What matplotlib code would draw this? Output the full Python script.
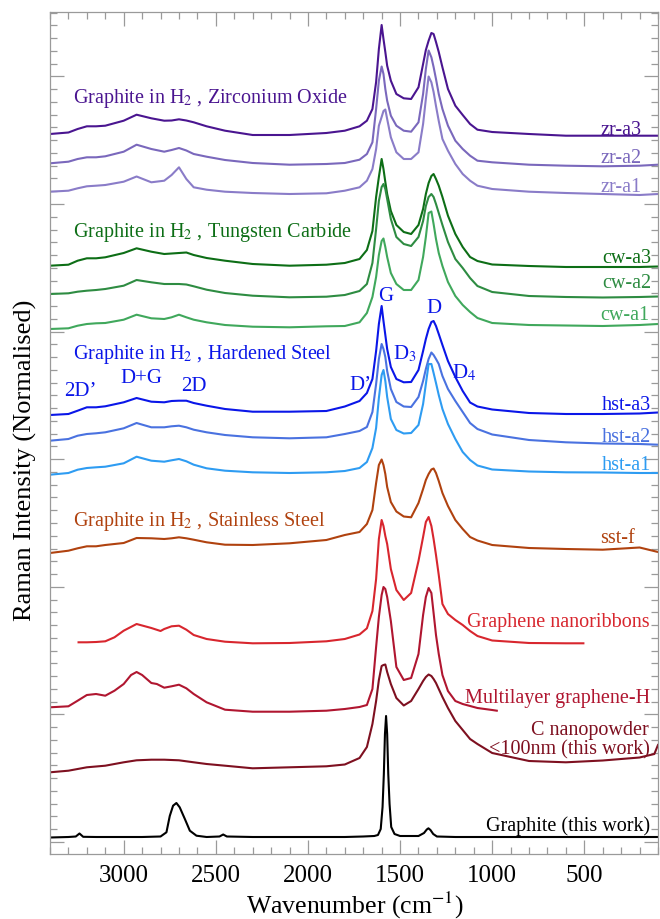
import matplotlib
matplotlib.use("Agg")
import matplotlib.pyplot as plt
from matplotlib.ticker import MultipleLocator

plt.rcParams['font.family'] = ['Liberation Serif', 'DejaVu Serif']
plt.rcParams['mathtext.fontset'] = 'stix'

# ---------------- data (wavenumber in cm^-1, intensity in arbitrary normalised units) ----------
wn = [3400, 3300, 3250, 3200, 3150, 3100, 3000, 2930, 2850, 2780, 2740, 2700, 2660, 2620,
      2550, 2450, 2300, 2100, 1900, 1800, 1720, 1680, 1650, 1630, 1615, 1600, 1590, 1580,
      1570, 1550, 1520, 1480, 1440, 1400, 1375, 1360, 1345, 1330, 1318, 1305, 1290, 1270,
      1240, 1200, 1160, 1120, 1080, 1000, 800, 600, 400, 200, 100]

zr_a3 = [2, 3.5, 7, 9.7, 9.7, 10.3, 15.3, 21.3, 17.7, 15.3, 15.5, 16.7, 15.5, 13.7, 9.7, 5.3, 1, 1, 3,
         5.3, 9.7, 15.3, 27, 54, 87, 111, 97, 84, 70.3, 55.3, 42, 37.7, 37, 48.7, 72, 86, 95.3,
         103, 102, 94, 84, 68.7, 47, 30.3, 21, 12, 6.3, 4, 2, 0.3, 0.3, 0.3, 0.3]
zr_a2 = [2.7, 4.3, 7, 8.7, 8.7, 9.7, 14.3, 21.3, 17, 14.3, 16, 18, 15.5, 12, 9.3, 6, 3, 1.3, 2,
         3, 6.3, 12, 23.7, 57, 85.3, 99.5, 92, 77, 65.3, 50.3, 40.3, 35.3, 34.3, 43.7, 72, 97, 115.5,
         108.7, 99, 87, 72, 57, 40.3, 25.3, 17, 10.3, 5.3, 3.7, 1.3, 0.3, -0.3, 0.3, 1.3]
zr_a1 = [2.3, 3.3, 5.7, 7.7, 8.3, 9, 12.3, 17.5, 11.7, 13.3, 19, 26.7, 15, 6.7, 4.3, 2.3, 1, 0, 0.7,
         3.3, 6.7, 13.3, 25, 45, 68.3, 77, 83, 84.5, 75, 56.7, 41.7, 35, 35, 41.7, 70, 95, 117.5,
         111.7, 102, 88, 73, 55, 43.3, 30, 20, 13.3, 8.3, 5, 2.3, 1, 0, -1, 0]
cw_a3 = [1.3, 2.3, 6.3, 8.7, 8.7, 9.7, 14, 18.7, 15.3, 13, 13.5, 14, 14.5, 12, 9, 6.3, 3, 1.3, 2.3,
         4, 8, 17, 36, 70, 90, 108, 98, 85, 73, 56, 42, 35, 33, 42, 58, 73, 84,
         91, 93, 88, 81.3, 70, 51.3, 33, 20, 10, 6, 2.5, 1, 0, 0, 0, 0.5]
cw_a2 = [3, 3.7, 5.3, 6.3, 7, 8, 11.3, 17, 14.7, 13, 13, 13, 12.5, 10.7, 7.3, 4, 1.3, -0.3, 0.3,
         2, 6, 13, 34, 68, 96, 110, 113, 108, 98, 78, 60, 53, 51, 60, 76, 91, 100,
         103, 100, 93, 84, 72, 55, 38, 29, 19, 11, 5, 1, 0, -0.5, 0, 0.5]
cw_a1 = [0, 0.7, 3.3, 5, 5.7, 6, 9.3, 14.3, 10.7, 10, 11.7, 14.3, 11.7, 9.3, 6.7, 4, 2.3, 1.7, 2.7,
         3, 6.7, 16, 32, 52, 74, 88, 90.5, 82, 72, 56, 45, 39, 39, 49, 72, 92, 116,
         117.5, 105, 90, 76, 63, 47, 33, 24, 17, 11, 6, 4, 3.5, 3, 4, 5]
hst_a3 = [-1, 0, 3.3, 6.7, 6.7, 7.7, 11.7, 16, 12.3, 11.7, 13, 13.3, 13.3, 11, 8.3, 5, 2.3, 2.3, 3,
          7.5, 13, 21, 35, 63, 90, 108, 93, 79, 65, 47, 35, 31.7, 32, 44, 63, 75, 85,
          92, 93, 88, 80, 69, 53, 37, 23, 11.5, 7.5, 4.5, 1, 0, 0, 0.5, 1.5]
hst_a2 = [3.3, 5, 8.3, 10, 10.7, 11.7, 15.7, 21, 16.7, 16.7, 17.7, 18.3, 16.7, 14.3, 11.7, 9, 6.7, 5.7, 6.7,
          10, 13, 17, 32, 60, 85, 100, 95, 87, 73, 55, 42, 37.5, 37, 47, 63, 75, 85,
          91.5, 89, 85, 80, 68, 55, 43, 32, 21, 15, 9.5, 4, 1.7, 0.5, 0, -0.7]
hst_a1 = [-1.7, 0, 3.3, 5, 5.7, 6.3, 9.7, 16.3, 12.3, 11.3, 12.7, 14, 11.7, 8.3, 4.7, 2.3, 0.7, 0, 0.7,
          2, 5, 11, 25, 45, 75, 98, 103, 92, 76, 54, 43, 39.5, 40, 48, 69, 89, 109,
          109, 100, 90, 78, 64, 49, 34, 21, 13, 7.5, 3.5, 1.5, 0.7, 0.5, 0, 0]
sst_f = [-4, -1.7, 0.7, 2.7, 2.7, 4, 6, 11, 10.7, 10, 10.7, 11.7, 10.7, 9.3, 6.7, 4.3, 4, 5.7, 9,
         14, 17, 25, 39, 66, 84, 89.5, 84, 75, 62, 47, 37.5, 32.5, 31.7, 46, 60, 69, 75,
         79.5, 80.5, 76, 68, 56, 43, 29, 20, 12, 8.5, 4, 1, 0, -0.7, 1.5, -3]

gnr_wn = [3245, 3200, 3150, 3100, 3050, 3000, 2930, 2850, 2800, 2780, 2740, 2700, 2660, 2620,
          2550, 2450, 2300, 2100, 1900, 1800, 1720, 1680, 1650, 1630, 1615, 1600, 1590, 1580,
          1570, 1550, 1520, 1480, 1440, 1400, 1375, 1360, 1345, 1330, 1318, 1305, 1290, 1270,
          1240, 1200, 1160, 1120, 1080, 1000, 800, 600, 505]
gnr = [0.7, 0.7, 1, 1.7, 5.7, 12.3, 19, 15, 12, 14, 16.7, 17.3, 13.3, 8,
       4, 1.3, -0.3, 0, 1.7, 4, 8.5, 14.7, 32, 64, 104, 123, 117, 107,
       99, 74, 53, 43, 50, 82, 106, 121, 126, 117, 104, 88, 68, 39,
       29, 23, 18, 12, 7, 2.5, 0, -0.3, -0.3]

mlg_wn = [3400, 3300, 3250, 3200, 3150, 3100, 3050, 3000, 2960, 2930, 2900, 2850, 2820, 2780,
          2740, 2700, 2660, 2620, 2550, 2450, 2300, 2100, 1900, 1800, 1720, 1680, 1650, 1630,
          1615, 1600, 1590, 1580, 1570, 1550, 1520, 1480, 1440, 1400, 1375, 1360, 1345, 1330,
          1318, 1305, 1290, 1270, 1240, 1200, 1160, 1120, 1080, 1000, 975]
mlg = [3.7, 4.7, 10.3, 16, 17, 15.3, 20.3, 27, 36, 39, 36, 28, 27, 23.3,
       24.7, 26.3, 22.7, 17, 8.7, 1.3, -0.7, -0.7, 0.3, 2, 4, 6, 22, 64,
       94, 116, 124, 122, 114, 90, 44, 31, 33, 57, 96, 114, 123, 118,
       98, 76, 57, 36, 20, 10, 7, 5, 3, 1, 0.3]

cnp_wn = [3400, 3300, 3250, 3200, 3150, 3100, 3000, 2930, 2850, 2780, 2700, 2620, 2550, 2450,
          2300, 2100, 1900, 1800, 1720, 1680, 1650, 1630, 1615, 1600, 1590, 1580, 1570, 1550,
          1520, 1480, 1440, 1400, 1375, 1360, 1345, 1330, 1318, 1305, 1290, 1270, 1240, 1200,
          1160, 1120, 1080, 1000, 800, 600, 400, 200, 120, 100]
cnp = [-5.3, -3.7, -2, -0.3, 0.5, 1.3, 4.7, 6.7, 7.3, 7.3, 6.7, 4.7, 3, 1.3,
       -1.3, -0.3, 0.7, 2.5, 9, 20, 43, 66, 87, 101, 102, 102.5, 95, 83,
       69, 61.5, 66, 78, 86, 90, 92.5, 91, 88, 84, 78, 70, 59, 46,
       37, 28, 23, 14, 6, 4.7, 6.5, 9.5, 13, 22]

gra_wn = [3400, 3300, 3260, 3240, 3220, 3150, 3000, 2900, 2800, 2768, 2750, 2732, 2714, 2696,
          2680, 2668, 2641, 2605, 2550, 2480, 2460, 2440, 2300, 2000, 1800, 1700, 1640, 1620,
          1605, 1595, 1588, 1582, 1576, 1570, 1564, 1557, 1548, 1530, 1500, 1400, 1370, 1355,
          1346, 1335, 1320, 1300, 1200, 1000, 800, 600, 400, 200, 100]
gra = [-0.5, 0, 0.5, 3.5, 0.2, 0, 0, 0, 0.5, 4.7, 21, 31.3, 34, 29.7,
       23, 18, 6.3, 1.3, 0, 0.5, 2.5, 0.5, 0, 0, 0, 0.5, 1, 2,
       8, 30, 63, 103, 121, 103, 63, 33, 10, 3, 1, 1, 4, 7.5,
       8.7, 7, 3, 0.5, 0, 0, 0, 0, 0, 0, 0]

stack_offsets = [706, 676, 648, 575, 545, 513, 428, 398, 369, 293, 199, 131, 75, 5]

# ---------------- styling ----------------
c_zr3, c_zr2, c_zr1 = '#4a1590', '#7a68bc', '#8a7cc8'
c_cw3, c_cw2, c_cw1 = '#0d6e16', '#2e8c42', '#40a85c'
c_h3, c_h2, c_h1 = '#0a16e8', '#4a72e0', '#2e9cf2'
c_sst = '#b0420f'
c_gnr, c_mlg, c_cnp, c_gra = '#d8262e', '#b01630', '#7e1020', '#000000'

series = [
    (wn, zr_a3, c_zr3), (wn, zr_a2, c_zr2), (wn, zr_a1, c_zr1),
    (wn, cw_a3, c_cw3), (wn, cw_a2, c_cw2), (wn, cw_a1, c_cw1),
    (wn, hst_a3, c_h3), (wn, hst_a2, c_h2), (wn, hst_a1, c_h1),
    (wn, sst_f, c_sst), (gnr_wn, gnr, c_gnr), (mlg_wn, mlg, c_mlg),
    (cnp_wn, cnp, c_cnp), (gra_wn, gra, c_gra),
]

fig = plt.figure(figsize=(6.6, 9.2), dpi=100)
ax = fig.add_axes([50 / 660, 1 - 855 / 920, 608 / 660, 842 / 920])

for (x, y, col), off in zip(series, stack_offsets):
    ax.plot(x, [v + off for v in y], color=col, lw=1.5, solid_joinstyle='round')

ax.set_xlim(3400, 100)
ax.set_ylim(-12, 830)

ax.xaxis.set_major_locator(MultipleLocator(500))
ax.xaxis.set_minor_locator(MultipleLocator(100))
ax.yaxis.set_major_locator(MultipleLocator(127.6))
ax.yaxis.set_minor_locator(MultipleLocator(12.76))
ax.tick_params(which='both', direction='in', top=True, right=True, color='#9a9a9a', width=0.9)
ax.tick_params(which='major', length=10)
ax.tick_params(which='minor', length=5)
ax.tick_params(axis='x', labelsize=18, pad=7)
ax.tick_params(axis='y', labelleft=False)
for sp in ax.spines.values():
    sp.set_color('#9a9a9a')
    sp.set_linewidth(0.9)

fig.text(25 / 660, 1 - 460 / 920, 'Raman Intensity (Normalised)', rotation=90,
         ha='center', va='center', fontsize=19)
fig.text(355 / 660, 1 - 914 / 920, 'Wavenumber (cm$^{-1}$)', ha='center', va='baseline',
         fontsize=18.5)

fs = 14.5
# group titles
ax.text(3275, 740, 'Graphite in H$_2$ , Zirconium Oxide', color=c_zr3, fontsize=fs, va='baseline')
ax.text(3275, 606, 'Graphite in H$_2$ , Tungsten Carbide', color=c_cw3, fontsize=fs, va='baseline')
ax.text(3275, 484, 'Graphite in H$_2$ , Hardened Steel', color=c_h3, fontsize=fs, va='baseline')
ax.text(3275, 317, 'Graphite in H$_2$ , Stainless Steel', color=c_sst, fontsize=fs, va='baseline')

# peak labels
peak_labels = [('2D\u2019', 3234, 447, 'center'), ('D+G', 2904, 460, 'center'),
               ('2D', 2621, 452, 'center'), ('D\u2019', 1716, 453, 'center'),
               ('G', 1580, 542, 'center'), ('D', 1316, 530, 'center'),
               ('D$_3$', 1536, 484, 'left'), ('D$_4$', 1219, 465, 'left')]
for t, x, y, ha in peak_labels:
    ax.text(x, y, t, color=c_h3, fontsize=fs + 0.5, ha=ha, va='baseline')

# sample labels on the right
right_labels = [('zr-a3', 187, 708, c_zr3), ('zr-a2', 187, 680, c_zr2), ('zr-a1', 187, 651, c_zr1),
                ('cw-a3', 138, 580, c_cw3), ('cw-a2', 138, 555, c_cw2), ('cw-a1', 145, 523, c_cw1),
                ('hst-a3', 138, 433, c_h3), ('hst-a2', 138, 401, c_h2), ('hst-a1', 138, 373, c_h1),
                ('sst-f', 228, 300, c_sst),
                ('Graphene nanoribbons', 145, 216, c_gnr),
                ('Multilayer graphene-H', 145, 140, c_mlg),
                ('C nanopowder', 150, 108, c_cnp),
                ('<100nm (this work)', 145, 89, c_cnp),
                ('Graphite (this work)', 145, 12, c_gra)]
for t, x, y, col in right_labels:
    ax.text(x, y, t, color=col, fontsize=fs, ha='right', va='baseline')

fig.savefig('out.png', dpi=100)
